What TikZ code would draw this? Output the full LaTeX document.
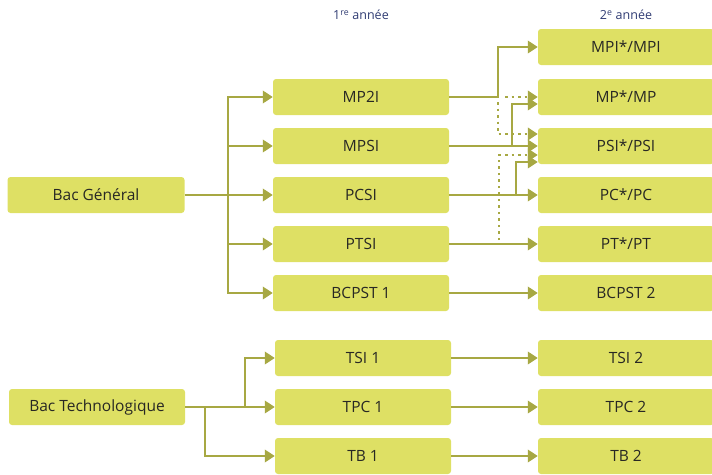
\documentclass[tikz,border=0pt]{standalone}
\usepackage{fontspec}
\setmainfont{Open Sans}
\usetikzlibrary{arrows.meta}
\definecolor{boxfill}{RGB}{222,224,100}
\definecolor{linec}{RGB}{167,168,67}
\definecolor{txt}{RGB}{40,40,36}
\definecolor{head}{RGB}{48,60,115}
\tikzset{
  box/.style={fill=boxfill, rounded corners=3pt, minimum width=176pt, minimum height=36pt, inner sep=0pt, text=txt, font=\fontsize{15.5}{18}\selectfont},
  hdr/.style={text=head, font=\fontsize{12.5}{14}\selectfont, inner sep=0pt},
  conn/.style={draw=linec, line width=2pt, -{Triangle[length=10pt,width=12.5pt]}, fill=none},
  dots/.style={line width=2.5pt, dash pattern=on 2.5pt off 4pt, line cap=butt},
}
\begin{document}
\begin{tikzpicture}[x=1pt,y=-1pt]
\useasboundingbox (0,0) rectangle (712,474);
\begin{scope}
\clip (0,0) rectangle (712,474);
% headers
\node[hdr] (h1) at (361,15) {1\textsuperscript{re} année};
\node[hdr] (h2) at (626,15) {2\textsuperscript{e} année};
% bac
\node[box, minimum width=177pt] (bg) at (96,195) {Bac Général};
\node[box] (bt) at (97,407) {Bac Technologique};
% first year
\node[box] (mp2i) at (361,97) {MP2I};
\node[box] (mpsi) at (361,146) {MPSI};
\node[box] (pcsi) at (361,195) {PCSI};
\node[box] (ptsi) at (361,244) {PTSI};
\node[box] (bcpst1) at (361,293) {BCPST 1};
\node[box] (tsi1) at (363,358) {TSI 1};
\node[box] (tpc1) at (363,407) {TPC 1};
\node[box] (tb1) at (363,456) {TB 1};
% second year
\node[box] (mpi) at (626,47) {MPI*/MPI};
\node[box] (mp) at (626,97) {MP*/MP};
\node[box] (psi) at (626,146) {PSI*/PSI};
\node[box] (pc) at (626,195) {PC*/PC};
\node[box] (pt) at (626,244) {PT*/PT};
\node[box] (bcpst2) at (626,293) {BCPST 2};
\node[box] (tsi2) at (626,358) {TSI 2};
\node[box] (tpc2) at (626,407) {TPC 2};
\node[box] (tb2) at (626,456) {TB 2};
% coordinates
\coordinate (tg) at (228,195);
\coordinate (tt1) at (205,407);
\coordinate (tt2) at (245,407);
\coordinate (a1) at (498,97);
\coordinate (a1b) at (505,97);
\coordinate (a2) at (512,146);
\coordinate (a3) at (516,195);
\coordinate (a4) at (499,240);
% bac general
\draw[conn] (bg.east) -- (pcsi.west);
\draw[conn] (tg) |- (mp2i.west);
\draw[conn] (tg) |- (mpsi.west);
\draw[conn] (tg) |- (ptsi.west);
\draw[conn] (tg) |- (bcpst1.west);
% bac techno
\draw[conn] (bt.east) -- (tpc1.west);
\draw[conn] (tt1) |- (tb1.west);
\draw[conn] (tt2) |- (tsi1.west);
% dotted
\draw[conn, dots] (a1b) -- (mp.west);
\draw[conn, dots] ([yshift=-5pt]a1) |- ([yshift=12pt]psi.west);
\draw[conn, dots] (a4) |- ([yshift=-9pt]psi.west);
% solid second year
\draw[conn] (mp2i.east) -- (a1) |- (mpi.west);
\draw[conn] (mpsi.east) -- (psi.west);
\draw[conn] (a2) |- ([yshift=-7pt]mp.west);
\draw[conn] (pcsi.east) -- (pc.west);
\draw[conn] (a3) |- ([yshift=-16pt]psi.west);
\draw[conn] (ptsi.east) -- (pt.west);
\draw[conn] (bcpst1.east) -- (bcpst2.west);
\draw[conn] (tsi1.east) -- (tsi2.west);
\draw[conn] (tpc1.east) -- (tpc2.west);
\draw[conn] (tb1.east) -- (tb2.west);
\end{scope}
\end{tikzpicture}
\end{document}
